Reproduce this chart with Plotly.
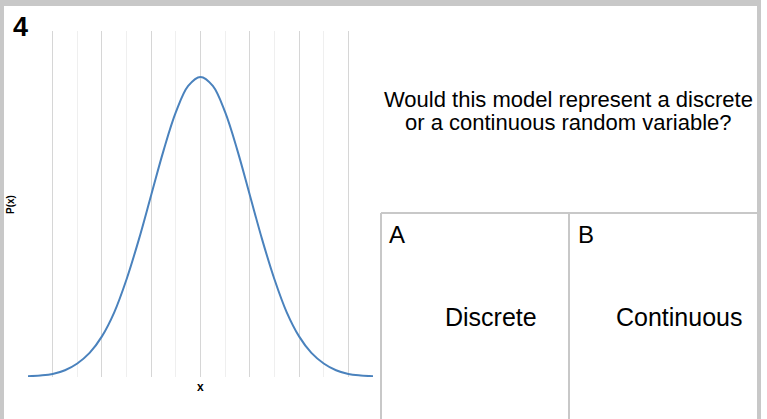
import plotly.graph_objects as go

# ---- data ----
x_values = [-3.5, -3.25, -3.0, -2.75, -2.5, -2.25, -2.0, -1.75, -1.5, -1.25, -1.0, -0.75, -0.5, -0.25,
            0.0, 0.25, 0.5, 0.75, 1.0, 1.25, 1.5, 1.75, 2.0, 2.25, 2.5, 2.75, 3.0, 3.25, 3.5]
p_values = [0.001, 0.002, 0.004, 0.009, 0.018, 0.032, 0.054, 0.086, 0.130, 0.183, 0.242, 0.301, 0.352, 0.387,
            0.399, 0.387, 0.352, 0.301, 0.242, 0.183, 0.130, 0.086, 0.054, 0.032, 0.018, 0.009, 0.004, 0.002, 0.001]
question_lines = ["Would this model represent a discrete", "or a continuous random variable?"]
option_letters = ["A", "B"]
option_texts = ["Discrete", "Continuous"]
question_number = "4"
x_title = "x"
y_title = "P(x)"

W, H = 767, 419
FONT = "Liberation Sans, Arial, sans-serif"
BORDER = "#c8c8c8"


def px(x):
    return x / W


def py(y):
    return 1 - y / H


fig = go.Figure()
fig.add_trace(go.Scatter(
    x=x_values, y=p_values, mode="lines",
    line=dict(color="#4a82bd", width=2, shape="spline", smoothing=1.0),
    hoverinfo="skip", showlegend=False,
))

fig.update_layout(
    width=W, height=H,
    margin=dict(l=0, r=0, t=0, b=0),
    paper_bgcolor="white", plot_bgcolor="white",
    font=dict(family=FONT, color="black"),
    xaxis=dict(
        domain=[px(28), px(373)], range=[-3.5, 3.5],
        showticklabels=False, ticks="", zeroline=False, showline=False,
        showgrid=True, dtick=1, tick0=0, gridcolor="#d6d6d6", gridwidth=1,
        minor=dict(dtick=0.5, tick0=0, showgrid=True, gridcolor="#efefef", gridwidth=1),
    ),
    yaxis=dict(
        domain=[py(377), py(31)], range=[0, 0.46],
        showticklabels=False, ticks="", zeroline=False, showline=False, showgrid=False,
    ),
)

shapes = []
# outer frame
shapes.append(dict(type="rect", xref="paper", yref="paper", x0=0, x1=px(761), y0=py(6), y1=1,
                   fillcolor=BORDER, line=dict(width=0), layer="above"))
shapes.append(dict(type="rect", xref="paper", yref="paper", x0=0, x1=px(4), y0=0, y1=1,
                   fillcolor=BORDER, line=dict(width=0), layer="above"))
shapes.append(dict(type="rect", xref="paper", yref="paper", x0=px(757), x1=px(761), y0=0, y1=1,
                   fillcolor=BORDER, line=dict(width=0), layer="above"))
# answer boxes
shapes.append(dict(type="line", xref="paper", yref="paper", x0=px(381), x1=px(757), y0=py(213), y1=py(213),
                   line=dict(color=BORDER, width=2), layer="above"))
shapes.append(dict(type="line", xref="paper", yref="paper", x0=px(381), x1=px(381), y0=0, y1=py(213),
                   line=dict(color=BORDER, width=2), layer="above"))
shapes.append(dict(type="line", xref="paper", yref="paper", x0=px(569), x1=px(569), y0=0, y1=py(213),
                   line=dict(color=BORDER, width=2), layer="above"))
fig.update_layout(shapes=shapes)

ann = []
ann.append(dict(text=f"<b>{question_number}</b>", x=px(11), y=py(27), xref="paper", yref="paper",
                xanchor="left", yanchor="middle", showarrow=False, font=dict(size=27, family=FONT)))
ann.append(dict(text=f"<b>{y_title}</b>", x=px(10), y=py(205), xref="paper", yref="paper",
                xanchor="center", yanchor="middle", showarrow=False, textangle=-90,
                font=dict(size=10, family=FONT)))
ann.append(dict(text=f"<b>{x_title}</b>", x=px(201), y=py(387), xref="paper", yref="paper",
                xanchor="center", yanchor="middle", showarrow=False, font=dict(size=12, family=FONT)))
for i, line in enumerate(question_lines):
    ann.append(dict(text=line, x=px(568), y=py(100 + 22 * i), xref="paper", yref="paper",
                    xanchor="center", yanchor="middle", showarrow=False, font=dict(size=22, family=FONT)))
letter_x = [387, 576]
center_x = [491, 679]
for lx, cx, letter, txt in zip(letter_x, center_x, option_letters, option_texts):
    ann.append(dict(text=letter, x=px(lx), y=py(234), xref="paper", yref="paper",
                    xanchor="left", yanchor="middle", showarrow=False, font=dict(size=24, family=FONT)))
    ann.append(dict(text=txt, x=px(cx), y=py(317), xref="paper", yref="paper",
                    xanchor="center", yanchor="middle", showarrow=False, font=dict(size=25, family=FONT)))
fig.update_layout(annotations=ann)

fig.write_html("out.html", config={"displayModeBar": False},
               post_script="document.body.style.margin='0';document.body.style.overflow='hidden';")
